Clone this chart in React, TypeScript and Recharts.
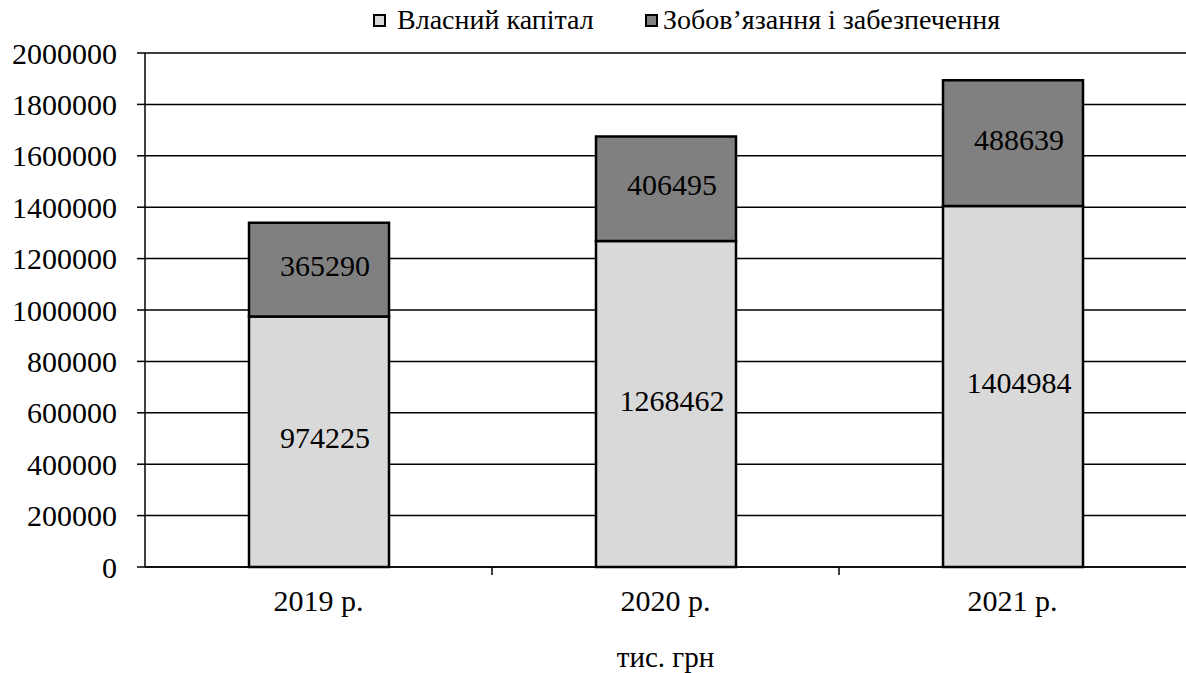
import { BarChart, Bar, XAxis, YAxis, CartesianGrid, Legend, LabelList } from "recharts";

const years = ["2019 р.", "2020 р.", "2021 р."];
const equity = [974225, 1268462, 1404984];
const liabilities = [365290, 406495, 488639];
const yTicks = [0, 200000, 400000, 600000, 800000, 1000000, 1200000, 1400000, 1600000, 1800000, 2000000];

const SERIES = [
  { key: "equity", name: "Власний капітал", color: "#d9d9d9" },
  { key: "liabilities", name: "Зобов’язання і забезпечення", color: "#808080" },
];

const data = years.map((year, i) => ({
  year,
  equity: equity[i],
  liabilities: liabilities[i],
}));

const FONT = "Liberation Serif";

// category tick: label in the middle, tick marks at the band edges (Excel style)
const CategoryTick = (props: any) => {
  const { x, y, payload, width, visibleTicksCount, index } = props;
  const band = width / (visibleTicksCount || 3);
  const left = x - band / 2;
  return (
    <g>
      {index > 0 && <line x1={left} x2={left} y1={y - 27} y2={y - 19} stroke="#000" strokeWidth={1.5} />}
      <text x={x} y={y} dy={17} textAnchor="middle" fontSize={30} fontFamily={FONT} fill="#000">
        {payload.value}
      </text>
    </g>
  );
};

// legend items sit where the original put them
const LEGEND_X = [373, 645];

const LegendContent = () => (
  <div style={{ position: "relative", width: 1186, height: 40, fontFamily: FONT, fontSize: 28 }}>
    {SERIES.map((s, i) => (
      <div
        key={s.key}
        style={{ position: "absolute", left: LEGEND_X[i], top: 0, height: 40, display: "flex", alignItems: "center", whiteSpace: "nowrap" }}
      >
        <span
          style={{
            display: "inline-block",
            width: 9,
            height: 9,
            background: s.color,
            border: "2px solid #000",
            marginRight: i === 0 ? 11 : 5,
          }}
        />
        <span>{s.name}</span>
      </div>
    ))}
  </div>
);

export default function App() {
  return (
    <div style={{ position: "absolute", left: 0, top: 0, width: 1186, height: 673, background: "#fff", fontFamily: FONT }}>
      <BarChart
        width={1186}
        height={673}
        data={data}
        margin={{ top: 13, right: 0, bottom: 0, left: 0 }}
        barCategoryGap={0}
      >
        <CartesianGrid vertical={false} stroke="#000" strokeWidth={1.5} />
        <XAxis
          dataKey="year"
          height={106}
          axisLine={{ stroke: "#000", strokeWidth: 1.5 }}
          tickLine={false}
          tickSize={0}
          tickMargin={27}
          tick={<CategoryTick />}
          interval={0}
          label={{
            value: "тис. грн",
            position: "insideBottom",
            offset: 6,
            fontSize: 29,
            fontFamily: FONT,
            fill: "#000",
          }}
        />
        <YAxis
          width={145}
          domain={[0, 2000000]}
          ticks={yTicks}
          interval={0}
          axisLine={{ stroke: "#000", strokeWidth: 1.5 }}
          tickLine={{ stroke: "#000", strokeWidth: 1.5 }}
          tickSize={8}
          tickMargin={20}
          tick={{ fontSize: 30, fontFamily: FONT, fill: "#000" }}
        />
        <Legend
          verticalAlign="top"
          align="left"
          content={<LegendContent />}
          wrapperStyle={{ top: 0, left: 0, width: 1186 }}
        />
        {SERIES.map((s) => (
          <Bar
            key={s.key}
            dataKey={s.key}
            name={s.name}
            stackId="a"
            fill={s.color}
            stroke="#000"
            strokeWidth={2.5}
            barSize={140}
            isAnimationActive={false}
          >
            <LabelList
              dataKey={s.key}
              position="center"
              fontSize={30}
              fontFamily={FONT}
              fill="#000"
              dy={-4}
              dx={6}
            />
          </Bar>
        ))}
      </BarChart>
    </div>
  );
}
